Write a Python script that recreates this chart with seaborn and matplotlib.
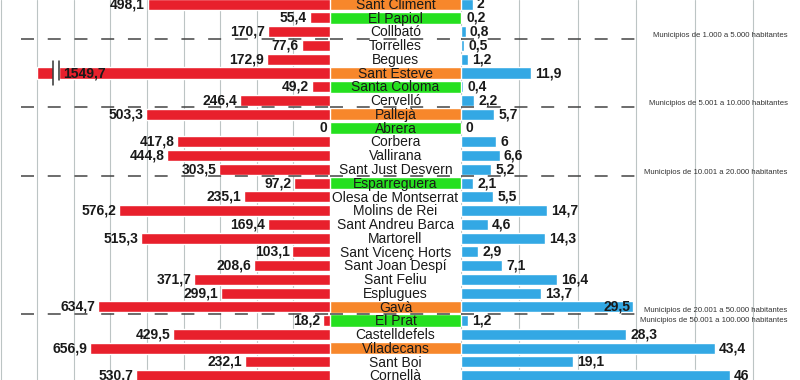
import numpy as np
import pandas as pd
import seaborn as sns
import matplotlib.pyplot as plt

# datos por municipio (arriba -> abajo)
municipios = ['Sant Climent', 'El Papiol', 'Collbató', 'Torrelles', 'Begues', 'Sant Esteve',
              'Santa Coloma', 'Cervelló', 'Pallejà', 'Abrera', 'Corbera', 'Vallirana',
              'Sant Just Desvern', 'Esparreguera', 'Olesa de Montserrat', 'Molins de Rei',
              'Sant Andreu Barca', 'Martorell', 'Sant Vicenç Horts', 'Sant Joan Despí',
              'Sant Feliu', 'Esplugues', 'Gavà', 'El Prat', 'Castelldefels', 'Viladecans',
              'Sant Boi', 'Cornellà']
valor_izq = [498.1, 55.4, 170.7, 77.6, 172.9, 1549.7, 49.2, 246.4, 503.3, 0, 417.8, 444.8,
             303.5, 97.2, 235.1, 576.2, 169.4, 515.3, 103.1, 208.6, 371.7, 299.1, 634.7,
             18.2, 429.5, 656.9, 232.1, 530.7]
valor_der = [2, 0.2, 0.8, 0.5, 1.2, 11.9, 0.4, 2.2, 5.7, 0, 6, 6.6, 5.2, 2.1, 5.5, 14.7,
             4.6, 14.3, 2.9, 7.1, 16.4, 13.7, 29.5, 1.2, 28.3, 43.4, 19.1, 46]
resaltado = ['naranja', 'verde', '', '', '', 'naranja', 'verde', '', 'naranja', 'verde',
             '', '', '', 'verde', '', '', '', '', '', '', '', '', 'naranja', 'verde',
             '', 'naranja', '', '']

# tramos de poblacion: ultimo municipio de cada tramo
tramo_fin = ['Collbató', 'Cervelló', 'Sant Just Desvern', 'Gavà']
tramo_texto = ['Municipios de 1.000 a 5.000 habitantes',
               'Municipios de 5.001 a 10.000 habitantes',
               'Municipios de 10.001 a 20.000 habitantes',
               'Municipios de 20.001 a 50.000 habitantes']
tramo_extra = 'Municipios de 50.001 a 100.000 habitantes'

TOPE_IZQ = 800  # barras mas largas se cortan
ROJO = '#e8202c'
AZUL = '#33a8e4'
colores_fondo = {'naranja': '#f7872b', 'verde': '#25e01f', '': 'white'}
GRIS = '#bcc4c4'

sns.set_style('white')
plt.rcParams['font.family'] = ['Liberation Sans', 'DejaVu Sans']
ETIQ = dict(fontsize=10, fontweight='bold', color='#1a1a1a', va='center')


def fmt(v):
    if float(v).is_integer():
        return str(int(v))
    return f'{v:.1f}'.replace('.', ',')


df = pd.DataFrame({'municipio': municipios, 'izq': valor_izq, 'der': valor_der,
                   'resaltado': resaltado})
df['izq_dibujo'] = df['izq'].clip(upper=TOPE_IZQ)
df['uno'] = 1

fig = plt.figure(figsize=(8, 3.8), dpi=100)
ax_l = fig.add_axes([0, 0, 330 / 800, 1])
ax_c = fig.add_axes([330 / 800, 0, 131 / 800, 1])
ax_r = fig.add_axes([461 / 800, 0, 339 / 800, 1])

ylim = (27.31, -0.305)

# izquierda
sns.barplot(data=df, x='izq_dibujo', y='municipio', color=ROJO, orient='h', width=0.8,
            saturation=1, ax=ax_l, zorder=2)
ax_l.set_xlim(902, 0)
ax_l.set_xticks(np.arange(100, 901, 100))
ax_l.grid(True, axis='x', color=GRIS, lw=0.8)
ax_l.set_axisbelow(True)
for i, (v, vd) in enumerate(zip(df['izq'], df['izq_dibujo'])):
    if v > TOPE_IZQ:
        ax_l.fill_between([TOPE_IZQ - 60, TOPE_IZQ - 44], i - 0.45, i + 0.45, color='white', zorder=3)
        ax_l.plot([TOPE_IZQ - 44] * 2, [i - 0.85, i + 0.85], color='#333333', lw=1.1, zorder=4)
        ax_l.plot([TOPE_IZQ - 60] * 2, [i - 0.85, i + 0.5], color='#333333', lw=1.1, zorder=4)
        ax_l.annotate(fmt(v), (TOPE_IZQ - 70, i), ha='left', zorder=5, **ETIQ)
    else:
        ax_l.annotate(fmt(v), (vd, i), xytext=(-2, 0), textcoords='offset points',
                      ha='right', **ETIQ)

# centro
sns.barplot(data=df, x='uno', y='municipio', hue='resaltado', palette=colores_fondo,
            orient='h', width=0.9, saturation=1, dodge=False, legend=False, ax=ax_c)
ax_c.set_xlim(0, 1)
for i, nombre in enumerate(municipios):
    ax_c.text(0.5, i + 0.05, nombre, ha='center', va='center', fontsize=10,
              color='#1a1a1a')

# derecha
sns.barplot(data=df, x='der', y='municipio', color=AZUL, orient='h', width=0.8,
            saturation=1, ax=ax_r, zorder=2)
ax_r.set_xlim(0, 58)
ax_r.set_xticks(np.arange(0, 51, 10))
ax_r.grid(True, axis='x', color=GRIS, lw=0.8)
ax_r.set_axisbelow(True)
for i, (nombre, v) in enumerate(zip(municipios, valor_der)):
    if nombre == tramo_fin[-1]:
        ax_r.annotate(fmt(v), (v, i), xytext=(-2, 0), textcoords='offset points',
                      ha='right', zorder=5, **ETIQ)
    else:
        ax_r.annotate(fmt(v), (v, i), xytext=(3, 0), textcoords='offset points',
                      ha='left', **ETIQ)

# lineas de tramo
for nombre, texto in zip(tramo_fin, tramo_texto):
    y = municipios.index(nombre) + 0.5
    kw = dict(color='#444444', lw=1.1, linestyle=(0, (8.5, 9)), zorder=6)
    ax_l.axhline(y, xmin=21 / 330, xmax=1, **kw)
    ax_c.axhline(y, **kw)
    ax_r.axhline(y, xmin=0, xmax=174 / 339, **kw)
    ax_r.text(55.9, y - 0.26, texto, ha='right', va='center', fontsize=5.6, color='#333333')
y = municipios.index(tramo_fin[-1]) + 0.5
ax_r.text(55.9, y + 0.45, tramo_extra, ha='right', va='center', fontsize=5.6, color='#333333')

for ax in (ax_l, ax_c, ax_r):
    ax.set_ylim(*ylim)
    ax.set_xlabel('')
    ax.set_ylabel('')
    ax.tick_params(left=False, bottom=False, labelleft=False, labelbottom=False)
    sns.despine(ax=ax, left=True, bottom=True)

fig.savefig('out.png', dpi=100)
